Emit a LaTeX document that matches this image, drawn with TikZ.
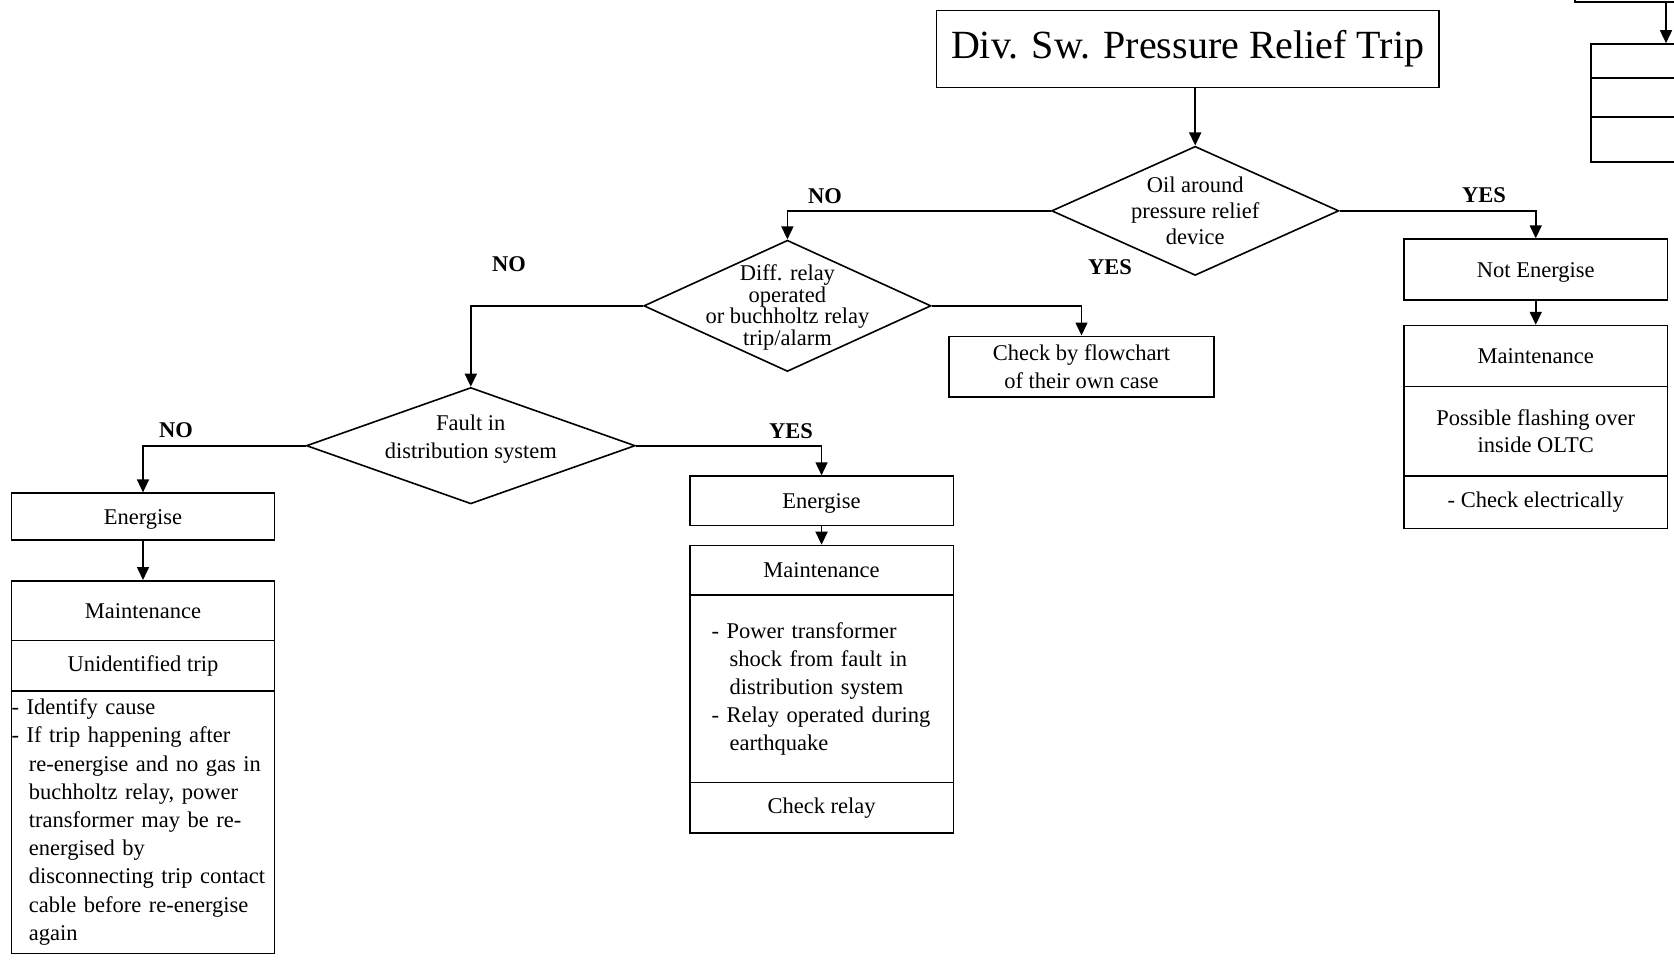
\documentclass[tikz,border=0pt]{standalone}
\usepackage{fontspec}
\setmainfont{Liberation Serif}
\usetikzlibrary{arrows.meta,shapes.geometric}
\begin{document}
\begin{tikzpicture}[x=1pt,y=-1pt,
  line width=1.6pt,
  every node/.style={font=\fontsize{22.5}{28}\selectfont, inner sep=0pt},
  box/.style={draw, rectangle, align=center},
  lowtext/.style={text height=20pt, text depth=5pt},
  dia/.style={draw, diamond, inner sep=0pt},
  dtext/.style={align=center},
  lbl/.style={font=\fontsize{22.5}{28}\selectfont\bfseries},
  arr/.style={-{Triangle[length=13pt,width=12pt]}},
]
\clip (0,0) rectangle (1674,960);

% title
\node[box, minimum width=502.8pt, minimum height=76.8pt,
      font=\fontsize{40}{48}\selectfont] (title) at (1187.7,49.1)
      {Div. Sw. Pressure Relief Trip};

% decisions
\node[dia, minimum width=287.2pt, minimum height=129.1pt] (d1) at (1195.2,210.85) {};
\node[dtext, font=\fontsize{22.5}{26}\selectfont] at (d1) {Oil around\\pressure relief\\device};

\node[dia, minimum width=287.2pt, minimum height=131.3pt] (d2) at (787.4,305.85) {};
\node[dtext, font=\fontsize{22.5}{21.7}\selectfont, yshift=-1.5pt] at (d2) {Diff. relay\\operated\\or buchholtz relay\\trip/alarm};

\node[dia, minimum width=328.8pt, minimum height=116.4pt] (d3) at (470.8,445.7) {};
\node[dtext, font=\fontsize{22.5}{28.8}\selectfont, yshift=6.5pt] at (d3) {Fault in\\distribution system};

% check box
\node[box, minimum width=264.9pt, minimum height=60.8pt,
      font=\fontsize{22.5}{27.7}\selectfont] (check) at (1081.5,366.7)
      {Check by flowchart\\of their own case};

% right branch
\node[box, lowtext, minimum width=263.7pt, minimum height=60.9pt] (notE) at (1535.75,269.55) {Not Energise};
\node[box, minimum width=263.7pt, minimum height=60.9pt] (mR1) at (1535.75,356.05) {Maintenance};
\node[box, minimum width=263.7pt, minimum height=89.6pt,
      font=\fontsize{22.5}{27.7}\selectfont] (mR2) at (1535.75,431.3)
      {Possible flashing over\\inside OLTC};
\node[box, minimum width=263.7pt, minimum height=52.4pt] (mR3) at (1535.75,502.3) {- Check electrically};

% left branch
\node[box, lowtext, minimum width=262.7pt, minimum height=47pt] (enL) at (143,516.7) {Energise};
\node[box, minimum width=262.7pt, minimum height=59.8pt] (mL1) at (143,610.7) {Maintenance};
\node[box, minimum width=262.7pt, minimum height=50.1pt] (mL2) at (143,665.65) {Unidentified trip};
\node[box, minimum width=262.7pt, minimum height=262.7pt, text width=262.7pt,
      align=left, font=\fontsize{22.5}{28.2}\selectfont] (mL3) at (143,822.05)
      {- Identify cause\\
       - If trip happening after\\
       \hspace*{17.3pt}re-energise and no gas in\\
       \hspace*{17.3pt}buchholtz relay, power\\
       \hspace*{17.3pt}transformer may be re-\\
       \hspace*{17.3pt}energised by\\
       \hspace*{17.3pt}disconnecting trip contact\\
       \hspace*{17.3pt}cable before re-energise\\
       \hspace*{17.3pt}again};

% middle branch
\node[box, lowtext, minimum width=263.7pt, minimum height=49.2pt] (enM) at (821.55,500.7) {Energise};
\node[box, minimum width=263.7pt, minimum height=49.2pt] (mM1) at (821.55,570.1) {Maintenance};
\node[box, minimum width=263.7pt, minimum height=187.9pt, text width=219.7pt,
      inner xsep=22pt, align=left, font=\fontsize{22.5}{28}\selectfont] (mM2) at (821.55,688.65)
      {- Power transformer\\
       \hspace*{18pt}shock from fault in\\
       \hspace*{18pt}distribution system\\
       - Relay operated during\\
       \hspace*{18pt}earthquake\\[12pt]};
\node[box, minimum width=263.7pt, minimum height=50.1pt] (mM3) at (821.55,807.65) {Check relay};

% neighbouring chart at the top right edge
\node[box, minimum width=265pt, minimum height=42pt] (tr0) at (1707.5,-19) {};
\node[box, minimum width=264pt, minimum height=34pt] (tr1) at (1723,61) {};
\node[box, minimum width=264pt, minimum height=39pt] (tr2) at (1723,97.5) {};
\node[box, minimum width=264pt, minimum height=45pt] (tr3) at (1723,139.5) {};
\coordinate (tra) at (1666,0);

% connectors
\draw[arr] (title.south -| d1.north) -- (d1.north);
\draw[arr] (d1.west) -| (d2.north);
\draw[arr] (d1.east) -| (notE.north);
\draw[arr] (d2.east) -| (check.north);
\draw[arr] (d2.west) -| (d3.north);
\draw[arr] (d3.west) -| (enL.north);
\draw[arr] (d3.east) -| (enM.north);
\draw[arr] (enL.south) -- (mL1.north);
\draw[arr] (enM.south) -- (mM1.north);
\draw[arr] (notE.south) -- (mR1.north);
\draw[arr] (tr0.south -| tra) -- (tr1.north -| tra);

% branch labels
\node[lbl] at (825,196.4) {NO};
\node[lbl] at (1484,195.4) {YES};
\node[lbl] at (1110,267) {YES};
\node[lbl] at (509,263.7) {NO};
\node[lbl] at (176,430) {NO};
\node[lbl] at (791,431.3) {YES};
\end{tikzpicture}
\end{document}
